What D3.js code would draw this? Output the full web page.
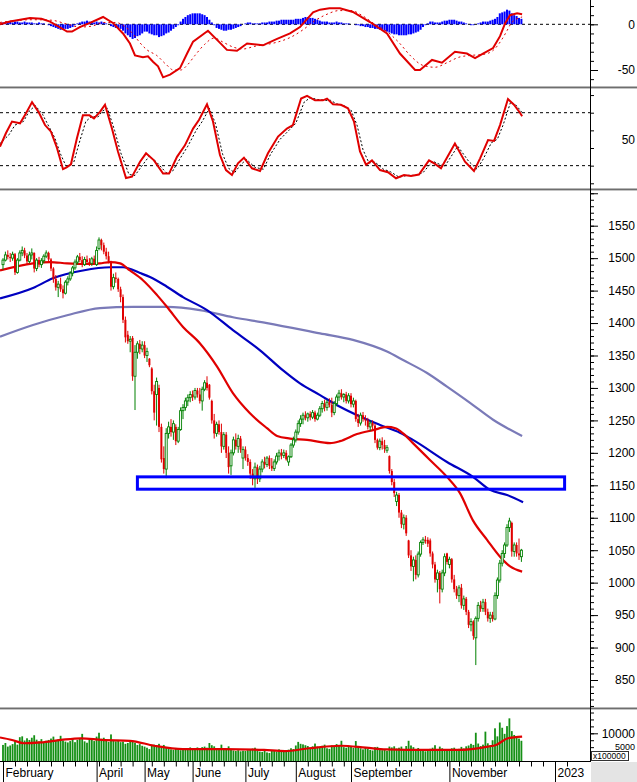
<!DOCTYPE html>
<html><head><meta charset="utf-8">
<script src="https://cdn.jsdelivr.net/npm/d3@7"></script>
<style>
body{margin:0;background:#fff;overflow:hidden}
svg{display:block}
text{font-family:"Liberation Sans",Arial,sans-serif}
</style></head>
<body><svg id="c" width="637" height="782"></svg>
<script>
// ---------- DATA ----------
// daily candles [open, high, low, close], trading day index 0 = 7 Feb 2022
const candles = [
[1490,1500,1482,1497],[1497,1510,1495,1505],[1505,1512,1498,1502],[1502,1508,1494,1500],[1500,1510,1496,1506],
[1506,1508,1474,1478],[1478,1500,1476,1497],[1497,1512,1495,1508],[1508,1518,1503,1512],[1512,1516,1500,1504],
[1504,1508,1490,1495],[1495,1510,1492,1505],[1505,1515,1498,1508],[1508,1509,1478,1484],[1484,1500,1480,1497],
[1497,1502,1486,1490],[1490,1500,1485,1496],[1496,1506,1492,1503],[1503,1512,1500,1508],[1508,1510,1494,1498],
[1498,1500,1480,1484],[1484,1486,1462,1468],[1468,1474,1450,1455],[1455,1465,1440,1460],[1460,1470,1448,1452],
[1452,1458,1438,1446],[1446,1466,1444,1463],[1463,1472,1458,1468],[1468,1480,1465,1477],[1477,1488,1472,1485],
[1485,1498,1482,1494],[1494,1505,1490,1502],[1502,1508,1494,1497],[1497,1503,1486,1490],[1490,1502,1488,1498],
[1498,1504,1490,1494],[1494,1500,1488,1492],[1492,1502,1488,1499],[1499,1504,1490,1493],[1490,1518,1488,1512],
[1515,1532,1512,1528],[1528,1530,1512,1520],[1520,1524,1506,1510],[1510,1516,1498,1503],[1503,1510,1492,1495],
[1493,1496,1450,1456],[1456,1476,1452,1470],[1470,1478,1462,1468],[1468,1470,1448,1452],[1452,1456,1432,1440],
[1440,1444,1400,1405],[1405,1410,1370,1378],[1382,1388,1368,1372],[1372,1380,1355,1375],[1377,1380,1311,1318],
[1318,1366,1266,1355],[1355,1372,1345,1368],[1368,1374,1352,1360],[1360,1372,1355,1366],[1366,1372,1346,1350],
[1350,1362,1340,1356],[1345,1346,1332,1335],[1330,1332,1290,1295],[1295,1305,1250,1262],[1290,1316,1242,1310],
[1300,1305,1232,1240],[1240,1245,1185,1190],[1192,1210,1168,1175],[1175,1238,1161,1230],[1230,1248,1222,1240],
[1240,1252,1225,1232],[1232,1250,1220,1245],[1240,1244,1212,1218],[1218,1240,1215,1236],[1236,1270,1234,1265],
[1265,1275,1252,1270],[1270,1285,1265,1280],[1280,1290,1272,1285],[1285,1295,1278,1290],[1290,1296,1280,1286],
[1286,1300,1282,1296],[1296,1300,1285,1290],[1290,1300,1276,1280],[1280,1302,1265,1298],[1298,1312,1295,1308],
[1308,1318,1296,1300],[1305,1306,1282,1285],[1280,1282,1245,1250],[1250,1260,1222,1230],[1230,1248,1225,1244],
[1244,1250,1228,1232],[1232,1245,1200,1210],[1210,1232,1205,1228],[1228,1232,1192,1200],[1200,1210,1168,1178],
[1180,1205,1166,1200],[1200,1225,1196,1220],[1220,1230,1205,1210],[1210,1228,1200,1222],[1222,1226,1200,1205],
[1192,1210,1175,1205],[1205,1210,1188,1192],[1192,1198,1180,1186],[1186,1190,1160,1168],[1168,1175,1150,1160],
[1160,1185,1146,1178],[1178,1182,1152,1160],[1160,1180,1155,1175],[1175,1190,1170,1186],[1186,1194,1176,1182],
[1182,1195,1178,1192],[1192,1196,1175,1180],[1180,1192,1172,1176],[1176,1190,1172,1186],[1186,1200,1182,1195],
[1195,1205,1188,1200],[1200,1206,1190,1196],[1196,1205,1192,1200],[1200,1204,1188,1190],[1186,1196,1180,1194],
[1194,1215,1192,1212],[1212,1225,1208,1220],[1220,1236,1216,1232],[1232,1250,1228,1245],[1245,1258,1240,1252],
[1252,1262,1244,1258],[1258,1264,1250,1254],[1254,1262,1248,1260],[1260,1264,1250,1255],[1255,1266,1252,1262],
[1262,1265,1248,1252],[1252,1262,1250,1258],[1258,1272,1255,1268],[1268,1280,1262,1276],[1276,1282,1264,1270],
[1270,1282,1265,1278],[1278,1284,1270,1274],[1274,1285,1255,1262],[1262,1280,1258,1276],[1276,1290,1272,1286],
[1286,1297,1280,1292],[1292,1298,1282,1286],[1286,1292,1278,1290],[1290,1294,1276,1280],[1280,1292,1276,1288],
[1288,1292,1270,1275],[1275,1285,1270,1280],[1280,1282,1248,1252],[1252,1260,1240,1246],[1246,1262,1242,1258],
[1258,1263,1248,1252],[1252,1258,1242,1250],[1250,1254,1236,1240],[1240,1250,1234,1246],[1246,1250,1236,1242],
[1242,1245,1215,1220],[1220,1222,1205,1208],[1208,1222,1204,1218],[1218,1224,1205,1212],[1212,1220,1200,1206],
[1204,1212,1200,1208],[1195,1196,1168,1172],[1172,1175,1150,1155],[1155,1160,1132,1138],[1125,1140,1118,1135],
[1135,1138,1100,1108],[1108,1112,1084,1090],[1090,1105,1082,1100],[1100,1104,1072,1076],[1065,1066,1038,1042],
[1042,1050,1018,1025],[1025,1040,1002,1035],[1035,1042,1005,1012],[1012,1048,1008,1044],[1044,1065,1040,1062],
[1062,1070,1058,1066],[1066,1072,1060,1064],[1066,1070,1055,1060],[1065,1068,1040,1045],[1045,1048,1022,1028],
[1028,1032,1000,1005],[1005,1020,985,1015],[1015,1018,968,990],[990,1020,985,1015],[1015,1045,1010,1040],
[1045,1046,1028,1032],[1028,1040,1022,1036],[1036,1038,1000,1005],[1005,1012,985,990],[990,995,975,980],
[980,996,970,992],[992,998,960,965],[965,980,958,975],[975,978,950,955],[955,958,930,935],
[935,945,925,940],[940,942,912,918],[915,948,873,945],[945,970,940,965],[965,972,955,960],
[960,975,955,970],[970,975,950,955],[955,960,940,945],[945,955,938,950],[950,955,940,944],
[944,985,942,980],[980,1008,975,1004],[1004,1035,1000,1030],[1030,1050,1025,1045],[1045,1062,1038,1058],
[1058,1090,1055,1085],[1085,1100,1078,1095],[1092,1094,1040,1048],[1048,1062,1040,1058],[1058,1062,1040,1045],
[1045,1068,1035,1042],[1040,1052,1032,1050]
];
// moving averages: [day index, value]
const ma50 = [[-1.25,1481],[12.5,1492],[19.6,1494],[26.7,1492],[35,1491],[40.4,1492],[44.6,1494],[48.8,1492],[52.9,1481],[58.3,1466],[64.2,1443],[68.3,1425],[75,1394],[82,1369],[89.2,1333],[95.8,1292],[102.9,1261],[110,1238],[114.2,1226],[119.6,1222],[126.7,1220],[136.3,1215],[140.4,1218],[147.5,1229],[154.2,1235],[160,1240],[163.5,1238],[166.7,1230],[170.8,1215],[177.9,1189],[185,1163],[190.4,1138],[195.8,1096],[201.7,1066],[207.1,1040],[211.3,1025],[216.3,1017]];
const ma100 = [[-1.25,1438],[12.5,1454],[20.8,1469],[33.3,1481],[44.6,1486],[50,1486],[57.1,1477],[61.25,1471],[68.3,1456],[75,1440],[85,1420],[95.8,1389],[107.1,1358],[116.7,1327],[123.75,1307],[132.1,1289],[140.4,1271],[148.75,1256],[157.1,1243],[165.4,1231],[170.8,1220],[185,1186],[195.8,1163],[202.9,1143],[210,1135],[216.7,1124]];
const ma200 = [[-1.25,1379],[12.5,1397],[26.7,1412],[40.4,1423],[54.2,1425],[68.3,1425],[82,1420],[95.8,1409],[110,1400],[132.1,1384],[145.8,1374],[160,1356],[166.7,1343],[176.7,1323],[185,1302],[194.6,1277],[204.2,1251],[216.3,1226]];
const zoneDays = [56, 234];
const zoneRange = [1144, 1163];
// MACD
const macdLine = [[-1.25,0],[2.9,3],[11.25,7],[16,6],[19.6,3],[26.7,-8],[28.75,-8],[32,-3],[36.25,1.5],[41.7,8],[45.8,1.5],[50,-10],[52.9,-21],[55,-34],[58.3,-36],[60.4,-35],[62.5,-41],[64.6,-46],[66.7,-58],[69.6,-55],[73.75,-48],[76.7,-32],[79.2,-19],[85.4,-7],[89.2,-17],[93.3,-28],[97.5,-29],[101.7,-21],[108.3,-23],[114.2,-16],[119.6,-10],[123.75,-3],[129.2,13],[132.1,16],[136,17.5],[140.4,17.5],[145.8,13.5],[152.9,2.5],[160,-10],[165.4,-32],[171.7,-50],[173.75,-50],[178.75,-39],[182.9,-42],[188.3,-30],[193.3,-32],[196.7,-37],[200,-32],[204.2,-26],[207.1,-13],[209.2,1],[211.25,10],[214.2,12],[216.3,11]];
const macdSignal = [[-1.25,2],[5,4],[12,5],[20,4.5],[27,0],[32,-3],[37,-2],[42,2],[47,2],[51,-3],[54,-10],[57,-20],[60,-28],[64,-34],[68,-44],[71,-50],[74,-50],[77,-44],[80,-34],[84,-22],[88,-15],[92,-20],[96,-25],[100,-27],[105,-24],[110,-22],[115,-19],[120,-14],[125,-6],[130,4],[135,11],[140,15],[145,15],[150,9],[155,0],[160,-8],[165,-20],[170,-35],[175,-45],[180,-47],[185,-42],[190,-36],[195,-34],[200,-33],[204,-29],[208,-16],[210,-7],[212,2],[216.3,8]];
const macdHist = [2,2,3,3,2,3,3,2,2,3,2,2,
2,1,1,2,1,1,0,-1,-2,
-3,-4,-5,-6,-6,-5,-5,-4,-3,-1,
1,2,3,3,4,3,3,2,3,2,
3,2,1,0,-2,
-3,-4,-4,
-5,-7,-10,-12,-14,-16,-15,-13,-12,-10,
-8,-8,-10,-11,-12,-12,-14,-13,-12,-10,-9,-7,-5,-3,-1,
3,6,8,10,11,12,12,12,12,11,10,8,5,2,-1,
-4,-5,-6,-7,-7,-6,-6,-5,-4,-3,-2,0,
1,2,2,1,1,1,1,2,2,2,3,3,3,4,4,5,5,5,5,5,5,6,6,6,7,8,8,7,7,6,5,
4,3,3,3,2,2,2,3,2,2,1,1,1,0,0,
-1,-1,-2,-2,-3,-3,-4,-4,-5,-5,-6,-6,-7,-8,-9,-10,-11,-11,-12,-12,-12,-12,-11,-11,-10,-9,-8,-6,-3,-1,1,
3,3,2,2,2,3,4,4,5,5,5,4,3,3,2,1,0,-1,-1,0,1,2,3,3,3,4,5,6,8,12,13,14,16,15,12,10,9,7,6];
// Stochastic
const stochK = [[-1.25,41.5],[1.25,57],[3.75,70],[7.1,68],[9.6,79.5],[12.1,92],[15,80],[17.5,66],[20,58.5],[22.5,40],[25,16],[26.5,18],[28.3,21.5],[30.8,51],[33.3,77],[36,77],[37.9,73.6],[40.4,81],[42.5,89],[45.4,62],[47.9,36],[51.25,6],[53.75,7.5],[57.1,24.5],[59.6,34],[62.9,26],[66.7,11],[69.2,11],[72.5,30],[75.8,43],[79.2,62],[81.7,72],[85,89.5],[87.5,70],[90.4,32],[92.9,15],[95.4,9.4],[97.9,22.6],[100.4,29],[103.75,17],[107.1,14],[110.4,34],[114.6,53],[118.3,62],[120.8,66],[124.2,96],[126.7,99],[130,94],[133.3,94],[135,96],[137.5,89.5],[140.8,89],[143.75,85],[146.25,70],[148.75,36],[151.25,21],[153.75,26],[157.1,15],[160.4,12.5],[163.75,5.7],[167.1,9.4],[170,8.3],[173.3,10],[177.5,26],[180,22],[182.5,17],[188.3,45],[192.5,24.5],[196.25,14],[198.75,28],[202.1,49],[204.6,48],[207.1,66],[210.4,95.5],[212.9,89],[215.4,80],[216.3,76]];
const stochD = [[-1.25,45],[2.5,55],[5,66],[8.5,70],[11,82],[13.5,88],[16.5,78],[19,65],[21.5,52],[24,33],[26.5,18],[29.5,24],[32,48],[34.5,70],[37,76],[39.5,75],[41.5,82],[43.5,85],[46.5,60],[49,35],[52.5,10],[55,9],[58.5,22],[61,31],[64,24],[68,12],[70.5,13],[74,29],[77,42],[80.5,60],[83,70],[86,85],[88.5,68],[91.5,33],[94,17],[96.5,12],[99,21],[101.5,27],[105,18],[108.5,16],[111.5,33],[115.5,50],[119.5,61],[122,68],[125.5,92],[128,97],[131,95],[134.5,94],[136.5,94],[139,90],[142,88],[145,83],[147.5,66],[150,38],[152.5,23],[155,24],[158.5,16],[161.5,13],[165,7],[168.5,9],[171.5,9],[175,12],[179,25],[184,19],[189.5,42],[194,25],[197.5,16],[200,27],[203.5,46],[206,50],[208.5,67],[211.5,92],[214,88],[216.3,80]];
const stochLevels = [80, 20];
// Volume (x100000)
const volume = [5800,6500,5200,5600,6100,7200,5900,8600,8900,7400,8200,7600,8400,9300,7700,7100,
7900,6800,7300,7600,8100,8800,7500,7800,9100,7400,7000,6700,7200,7900,6800,7600,8200,9800,7100,6600,7800,8300,7200,
8800,10200,8000,8400,7700,6900,9600,7400,7100,7600,
6800,7000,6200,6500,7200,6900,6600,5800,6100,5500,
5200,4800,4300,5600,5900,5100,6200,5400,5800,4900,4500,4200,4000,4700,4400,3900,4300,4500,4600,4900,
4400,4700,4900,4300,5000,5200,4800,6500,5700,5300,4600,4200,5900,4600,4400,5300,4100,3800,3600,3900,3500,3700,
3600,3900,4300,4500,4800,3800,3400,3300,3700,3100,2900,3600,3800,3400,4200,3500,3300,3800,4100,4600,4300,
5600,6900,6200,6000,5700,5400,4800,5300,6300,5200,4700,5500,5900,4600,4400,5600,5300,6100,5800,7300,5000,4800,5200,
5100,4700,7200,5300,4600,4200,4800,4400,4000,3800,5000,5100,4300,3900,4100,3700,5200,4900,5300,4500,
4800,5200,4300,5400,7300,5600,5000,4200,4700,3900,3800,3500,3700,4400,4800,5700,4100,5200,4600,4200,4000,
3900,4600,4800,4300,4400,5100,4500,5300,5600,6200,5800,10200,6300,5400,5900,10600,6400,5700,
7500,11800,8900,13900,12000,9800,12600,15400,10800,9400,8800,8100,7300];
const volMA = [[-1.25,8500],[3.75,7600],[8.75,6400],[15.8,6700],[24.2,7600],[32.5,8200],[41.25,7600],[52.9,7300],[63,5500],[75,4300],[92,4300],[108.75,4000],[117.5,3600],[127.5,4600],[140.8,5500],[151.25,4800],[159.6,4200],[176.7,4000],[190,4000],[202,5200],[205.4,5800],[210.4,8200],[216.3,8800]];
// Time axis
const monthLabels = [["February",0],["April",39],["May",59],["June",79],["July",101],["August",122],["September",145],["November",186],["2023",230]];
const weekStarts = [5,10,15,20,25,30,35,40,45,49,54,62,67,72,77,82,87,92,97,102,107,112,117,127,132,137,142,150,155,160,165,170,175,180,185,190,195,200,205,210,215,220,225,235];
// Axis ticks
const priceLabels = [850,900,950,1000,1050,1100,1150,1200,1250,1300,1350,1400,1450,1500,1550];
const macdLabels = [0,-50];
const stochLabel = [50];
const volLabels = [10000];
const volLabelSmall = [5000];

// ---------- DRAWING ----------
const svg = d3.select("#c");
const AX = 590;
const x = d3.scaleLinear().domain([0,230]).range([3,555]);
const yP = d3.scaleLinear().domain([850,1550]).range([680,225.7]);
const yM = d3.scaleLinear().domain([-50,0]).range([70,24.3]);
const yS = d3.scaleLinear().domain([0,100]).range([183.3,95.05]);
const yV = d3.scaleLinear().domain([0,10000]).range([761,733.3]);

const defs = svg.append("defs");
function clip(id,y0,y1){defs.append("clipPath").attr("id",id).append("rect").attr("x",0).attr("y",y0).attr("width",AX).attr("height",y1-y0);}
clip("cm",0,87); clip("cs",89,189); clip("cp",191,708); clip("cv",710,761);

const RED="#e00000", GREEN="#008000";

// Panel 1: MACD
const g1 = svg.append("g").attr("clip-path","url(#cm)");
g1.append("line").attr("x1",0).attr("x2",AX).attr("y1",yM(0)).attr("y2",yM(0)).attr("stroke","#000").attr("stroke-dasharray","3,3");
g1.selectAll("rect.h").data(macdHist).join("rect")
 .attr("x",(d,i)=>x(i)-1).attr("width",2)
 .attr("y",d=>yM(Math.max(0,d))).attr("height",d=>Math.abs(yM(d)-yM(0)))
 .attr("fill","#0000ff");
g1.append("path").attr("d",d3.line().x(d=>x(d[0])).y(d=>yM(d[1])).curve(d3.curveMonotoneX)(macdSignal)).attr("fill","none").attr("stroke",RED).attr("stroke-width",1).attr("stroke-dasharray","2,3");
g1.append("path").attr("d",d3.line().x(d=>x(d[0])).y(d=>yM(d[1]))(macdLine)).attr("fill","none").attr("stroke",RED).attr("stroke-width",2);

// Panel 2: Stochastic
const g2 = svg.append("g").attr("clip-path","url(#cs)");
stochLevels.forEach(v=>g2.append("line").attr("x1",0).attr("x2",AX).attr("y1",yS(v)).attr("y2",yS(v)).attr("stroke","#000").attr("stroke-dasharray","3,3"));
const lineS = d3.line().x(d=>x(d[0])).y(d=>yS(d[1]));
g2.append("path").attr("d",lineS(stochD)).attr("fill","none").attr("stroke","#000").attr("stroke-width",1).attr("stroke-dasharray","2,2");
g2.append("path").attr("d",lineS(stochK)).attr("fill","none").attr("stroke",RED).attr("stroke-width",2);

// Panel 3: price
const g3 = svg.append("g").attr("clip-path","url(#cp)");
const lineP = d3.line().x(d=>x(d[0])).y(d=>yP(d[1])).curve(d3.curveMonotoneX);
g3.append("path").attr("d",lineP(ma200)).attr("fill","none").attr("stroke","#7a7ab8").attr("stroke-width",2.2);
g3.append("path").attr("d",lineP(ma100)).attr("fill","none").attr("stroke","#0000c0").attr("stroke-width",2.2);
g3.append("path").attr("d",lineP(ma50)).attr("fill","none").attr("stroke",RED).attr("stroke-width",2.2);
const cg = g3.selectAll("g.c").data(candles).join("g");
cg.append("line").attr("x1",(d,i)=>x(i)).attr("x2",(d,i)=>x(i)).attr("y1",d=>yP(d[1])).attr("y2",d=>yP(d[2]))
 .attr("stroke",d=>d[3]>=d[0]?GREEN:RED).attr("stroke-width",1);
cg.append("rect").attr("x",(d,i)=>x(i)-1).attr("width",2)
 .attr("y",d=>yP(Math.max(d[0],d[3]))).attr("height",d=>Math.max(1,Math.abs(yP(d[0])-yP(d[3]))))
 .attr("fill",d=>d[3]>=d[0]?"#fff":RED).attr("stroke",d=>d[3]>=d[0]?GREEN:"none").attr("stroke-width",0.9);
g3.append("rect").attr("x",x(zoneDays[0])).attr("width",x(zoneDays[1])-x(zoneDays[0]))
 .attr("y",yP(zoneRange[1])).attr("height",yP(zoneRange[0])-yP(zoneRange[1]))
 .attr("fill","none").attr("stroke","#0000ff").attr("stroke-width",3);

// Panel 4: volume
const g4 = svg.append("g").attr("clip-path","url(#cv)");
g4.selectAll("rect").data(volume).join("rect")
 .attr("x",(d,i)=>x(i)-0.9).attr("width",1.8)
 .attr("y",d=>yV(d)).attr("height",d=>yV(0)-yV(d)).attr("fill","#159015");
g4.append("path").attr("d",d3.line().x(d=>x(d[0])).y(d=>yV(d[1])).curve(d3.curveMonotoneX)(volMA))
 .attr("fill","none").attr("stroke",RED).attr("stroke-width",2.2);

// separators
[87,189,708].forEach(y=>{
  svg.append("rect").attr("x",0).attr("y",y-0.5).attr("width",637).attr("height",1.5).attr("fill","#6e6e6e");
  svg.append("rect").attr("x",0).attr("y",y+1).attr("width",637).attr("height",1).attr("fill","#c4c4c4");
});

// right axes
function rAxis(scale, minor, major, labels, y0, y1, fs){
  const g = svg.append("g").attr("transform",`translate(${AX},0)`);
  g.append("g").call(d3.axisRight(scale).tickValues(minor.filter(v=>scale(v)>y0&&scale(v)<y1)).tickSize(4).tickFormat(""));
  g.append("g").call(d3.axisRight(scale).tickValues(major.filter(v=>scale(v)>y0&&scale(v)<y1)).tickSize(8).tickFormat(""));
  const lg = g.append("g").call(d3.axisRight(scale).tickValues(labels).tickSize(0).tickFormat(d=>d));
  lg.selectAll("text").attr("x",45).attr("text-anchor","end").attr("font-size",fs||12).attr("fill","#000").attr("font-family","Liberation Sans, Arial, sans-serif");
  g.selectAll(".domain").remove();
  g.selectAll(".tick line").attr("stroke","#000");
  return lg;
}
rAxis(yM, d3.range(-80,30,10), macdLabels, macdLabels, 0, 87);
rAxis(yS, d3.range(0,101,20), [], stochLabel, 89, 189);
rAxis(yP, d3.range(810,1601,10), d3.range(850,1601,50), priceLabels, 191, 708);
rAxis(yV, d3.range(0,20001,2500), [10000], volLabels, 710, 761);
const small = rAxis(yV, [], [], volLabelSmall, 710, 761, 9);
small.selectAll("text").attr("dy","0").attr("y",2.3);
svg.append("line").attr("x1",AX+0.5).attr("x2",AX+0.5).attr("y1",0).attr("y2",762).attr("stroke","#000");

// bottom-right corner
svg.append("rect").attr("x",AX+1).attr("y",762).attr("width",637-AX).attr("height",20).attr("fill","#e4e4e4");
svg.append("rect").attr("x",591.5).attr("y",751.5).attr("width",37).attr("height",9).attr("fill","#fff").attr("stroke","#333").attr("stroke-width",1);
svg.append("text").attr("x",593).attr("y",759.2).attr("font-size",8.5).text("x100000");

// date axis
const gx = svg.append("g").attr("transform","translate(0,761.5)");
gx.append("line").attr("x1",0).attr("x2",AX).attr("stroke","#000");
gx.append("g").call(d3.axisBottom(x).tickValues(weekStarts).tickSize(5).tickFormat(""));
const mg = gx.append("g").call(d3.axisBottom(x).tickValues(monthLabels.map(d=>d[1])).tickSize(21).tickFormat((d,i)=>monthLabels[i][0]));
mg.selectAll("text").attr("x",2).attr("y",7).attr("dy","0.71em").attr("text-anchor","start").attr("font-size",12).attr("fill","#000").attr("font-family","Liberation Sans, Arial, sans-serif");
gx.selectAll(".domain").remove();
gx.selectAll(".tick line").attr("stroke","#000");
</script>
</body></html>
